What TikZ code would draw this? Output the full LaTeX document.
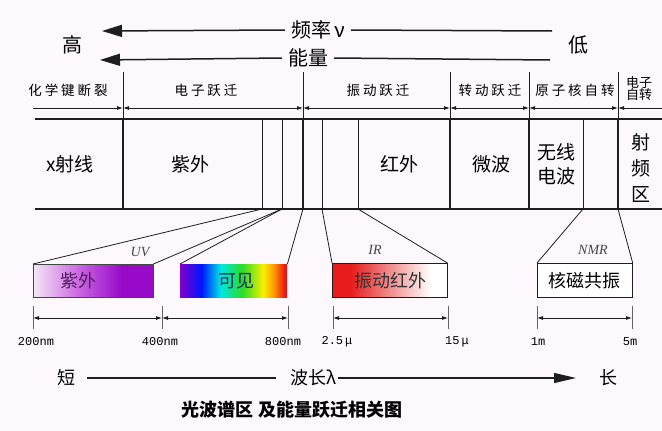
\documentclass[tikz,border=0pt]{standalone}
\usepackage{fontspec}
\setmainfont{Liberation Serif}
\newfontfamily\cjk{Noto Sans CJK SC}
\newfontfamily\cjksp[LetterSpace=22]{Noto Sans CJK SC}
\newfontfamily\monof{Liberation Mono}
\usetikzlibrary{arrows.meta}
\definecolor{bgc}{RGB}{252,248,252}
\definecolor{lnc}{RGB}{30,30,30}
\definecolor{uvA}{RGB}{244,232,246}
\definecolor{uvB}{RGB}{200,96,224}
\definecolor{uvC}{RGB}{150,10,200}
\definecolor{vPur}{RGB}{130,0,200}
\definecolor{vBlu}{RGB}{0,20,255}
\definecolor{vCya}{RGB}{0,230,230}
\definecolor{vGrn}{RGB}{40,220,40}
\definecolor{vYel}{RGB}{250,240,0}
\definecolor{vOra}{RGB}{250,150,0}
\definecolor{vRed}{RGB}{235,20,20}
\definecolor{irA}{RGB}{232,28,28}
\definecolor{irB}{RGB}{240,140,140}
\definecolor{txtuv}{RGB}{80,30,100}
\definecolor{txtvis}{RGB}{30,40,110}
\definecolor{lblc}{RGB}{70,70,70}
\pgfdeclarehorizontalshading{uvsh}{100bp}{color(0bp)=(uvA); color(25bp)=(uvA); color(45bp)=(uvB); color(62bp)=(uvC); color(75bp)=(uvC); color(100bp)=(uvC)}
\pgfdeclarehorizontalshading{vissh}{100bp}{color(0bp)=(vPur); color(25bp)=(vPur); color(35bp)=(vBlu); color(44bp)=(vCya); color(54bp)=(vGrn); color(64bp)=(vYel); color(69bp)=(vOra); color(74bp)=(vRed); color(100bp)=(vRed)}
\pgfdeclarehorizontalshading{irsh}{100bp}{color(0bp)=(irA); color(25bp)=(irA); color(33bp)=(irA); color(50bp)=(irB); color(68bp)=(white); color(75bp)=(white); color(100bp)=(white)}
\begin{document}
\begin{tikzpicture}[x=1pt,y=-1pt,
  bigarrow/.style={line width=1.5pt,lnc,-{Triangle[length=20pt,width=12pt]}},
  bigline/.style={line width=1.5pt,lnc},
  dimarrow/.style={line width=0.8pt,lnc,{Latex[length=6pt,width=4pt]}-{Latex[length=6pt,width=4pt]}},
  dimright/.style={line width=0.8pt,lnc,-{Latex[length=6pt,width=4pt]}},
  dimleft/.style={line width=0.8pt,lnc,{Latex[length=6pt,width=4pt]}-},
  thinv/.style={line width=0.7pt,lnc},
  medv/.style={line width=1.4pt,lnc},
  thickv/.style={line width=2.6pt,lnc},
  bandline/.style={line width=1.1pt,lnc},
  proj/.style={line width=0.8pt,lnc},
  bigtxt/.style={font=\cjk\fontsize{20}{22}\selectfont,inner sep=1pt},
  gaptxt/.style={font=\cjk\fontsize{20}{22}\selectfont,inner xsep=6pt,inner ysep=1pt},
  bandtxt/.style={font=\cjk\fontsize{19}{24}\selectfont,inner sep=1pt,align=center},
  toptxt/.style={font=\cjksp\fontsize{13.5}{15}\selectfont,inner sep=1pt},
  boxtxt/.style={font=\cjk\fontsize{18}{20}\selectfont,inner sep=0pt},
  numtxt/.style={font=\monof\fontsize{12}{14}\selectfont,inner sep=0pt},
  tag/.style={font=\itshape\fontsize{14}{16}\selectfont,lblc,inner sep=0pt},
  specbox/.style={minimum height=33pt,inner sep=0pt,anchor=north west}]
\fill[bgc] (0,0) rectangle (662,431);
\useasboundingbox (0,0) rectangle (662,431);
% ---- top arrows
\node[bigtxt] (high) at (72,45) {高};
\node[bigtxt] (low) at (578,45) {低};
\node[gaptxt] (freq) at (318,30) {频率\,ν};
\node[gaptxt] (ener) at (308,58) {能量};
\coordinate (f1) at (102,31);
\coordinate (f2) at (552,31);
\coordinate (e1) at (100,60);
\coordinate (e2) at (550,60);
\draw[bigarrow] (freq.west) -- (f1);
\draw[bigline] (freq.east) -- (f2);
\draw[bigarrow] (ener.west) -- (e1);
\draw[bigline] (ener.east) -- (e2);
% ---- transition labels
\node[toptxt] (t1) at (68,90) {化学键断裂};
\node[toptxt] (t2) at (206,90) {电子跃迁};
\node[toptxt] (t3) at (378,90) {振动跃迁};
\node[toptxt] (t4) at (490,90) {转动跃迁};
\node[toptxt] (t5) at (575,90) {原子核自转};
\node[font=\cjk\fontsize{13}{15}\selectfont,inner sep=0pt,align=center] (t6) at (639,89) {电子\\[-3pt]自转};
% dividers
\foreach \n/\x in {d1/123,d2/303,d3/450,d4/529,d5/618}{
  \coordinate (\n top) at (\x,72);
  \coordinate (\n a) at (\x,108);
  \coordinate (\n b) at (\x,119);
  \coordinate (\n c) at (\x,209);
  \draw[thinv] (\n top) -- (\n b);
}
\coordinate (aL) at (33,108);
\coordinate (aR) at (662,108);
\draw[dimright] (aL) -- (d1a);
\draw[dimarrow] (d1a) -- (d2a);
\draw[dimarrow] (d2a) -- (d3a);
\draw[dimarrow] (d3a) -- (d4a);
\draw[dimarrow] (d4a) -- (d5a);
\draw[dimleft] (d5a) -- (aR);
% ---- band
\coordinate (bTL) at (35,119);
\coordinate (bTR) at (662,119);
\coordinate (bBL) at (35,209);
\coordinate (bBR) at (662,209);
\draw[bandline] (bTL) -- (bTR);
\draw[bandline] (bBL) -- (bBR);
\foreach \n in {d1,d2,d3,d4}{\draw[thickv] (\n b) -- (\n c);}
\draw[medv] (d5b) -- (d5c);
\foreach \n/\x in {s1/262,s2/282,s3/322,s4/358,s5/583}{
  \coordinate (\n t) at (\x,119);
  \coordinate (\n b) at (\x,209);
  \draw[thinv] (\n t) -- (\n b);
}
\node[bandtxt] (xray) at (70,164) {x射线};
\node[bandtxt] (uvb) at (190,164) {紫外};
\node[bandtxt] (irb) at (399,164) {红外};
\node[bandtxt] (mw) at (491,164) {微波};
\node[bandtxt] (radio) at (556,164) {无线\\电波};
\node[font=\cjk\fontsize{19}{26}\selectfont,inner sep=0pt,align=center] (rf) at (641,168) {射\\频\\区};
% ---- spectrum boxes
\shade[shading=uvsh,draw=lblc,line width=0.6pt] (33,264) rectangle (153,297);
\node[specbox,minimum width=120pt] (uvbox) at (33,264) {};
\node[boxtxt,txtuv] at (78,281) {紫外};
\shade[shading=vissh] (180,264) rectangle (287,297);
\node[specbox,minimum width=107pt] (visbox) at (180,264) {};
\node[boxtxt,txtvis] at (236,281) {可见};
\shade[shading=irsh,draw=lnc,line width=0.7pt] (332,263) rectangle (447,297);
\node[specbox,minimum width=115pt,minimum height=34pt] (irbox) at (332,263) {};
\node[boxtxt,black!80] at (390,281) {振动红外};
\node[specbox,draw=lnc,line width=0.7pt,fill=white,minimum width=95pt,minimum height=34pt] (nmrbox) at (537,263) {};
\node[boxtxt] at (584.5,281) {核磁共振};
\node[tag] (uvtag) at (140,252) {UV};
\node[tag] (irtag) at (375,250) {IR};
\node[tag] (nmrtag) at (593,250) {NMR};
% projections
\draw[proj] (uvbox.north west) -- (s1b);
\draw[proj] (uvbox.north east) -- (s2b);
\draw[proj] (visbox.north west) -- (s2b);
\draw[proj] (visbox.north east) -- (d2c);
\draw[proj] (irbox.north west) -- (s3b);
\draw[proj] (irbox.north east) -- (s4b);
\draw[proj] (nmrbox.north west) -- (s5b);
\draw[proj] (nmrbox.north east) -- (d5c);
% ---- dimension lines
\foreach \n/\x in {k1/33,k2/162,k3/288,k4/333,k5/448,k6/537,k7/632}{
  \coordinate (\n t) at (\x,306);
  \coordinate (\n b) at (\x,329);
  \coordinate (\n m) at (\x,318);
  \draw[thinv,lnc!70] (\n t) -- (\n b);
}
\draw[dimarrow] (k1m) -- (k2m);
\draw[dimarrow] (k2m) -- (k3m);
\draw[dimarrow] (k4m) -- (k5m);
\draw[dimarrow] (k6m) -- (k7m);
\node[numtxt] (n1) at (36,342) {200nm};
\node[numtxt] (n2) at (160,342) {400nm};
\node[numtxt] (n3) at (283,342) {800nm};
\node[numtxt] (n4) at (337,342) {2.5\,μ};
\node[numtxt] (n5) at (457,342) {15\,μ};
\node[numtxt] (n6) at (538,342) {1m};
\node[numtxt] (n7) at (630,342) {5m};
% ---- wavelength arrow
\node[bigtxt,font=\cjk\fontsize{18}{20}\selectfont] (short) at (66,378) {短};
\node[bigtxt,font=\cjk\fontsize{18}{20}\selectfont] (long) at (608,378) {长};
\node[font=\cjk\fontsize{18}{20}\selectfont,inner xsep=2pt] (wl) at (313,378) {波长λ};
\coordinate (w1) at (87,378);
\coordinate (w2) at (576,378);
\draw[line width=1.1pt,lnc] (w1) -- ([xshift=-12pt]wl.west);
\draw[line width=1.1pt,lnc,-{Triangle[length=22pt,width=10pt]}] (wl.east) -- (w2);
% ---- title
\node[font=\cjk\bfseries\fontsize{18}{20}\selectfont,inner sep=0pt] (title) at (292,410) {光波谱区\hspace{6pt}及能量跃迁相关图};
\end{tikzpicture}
\end{document}
